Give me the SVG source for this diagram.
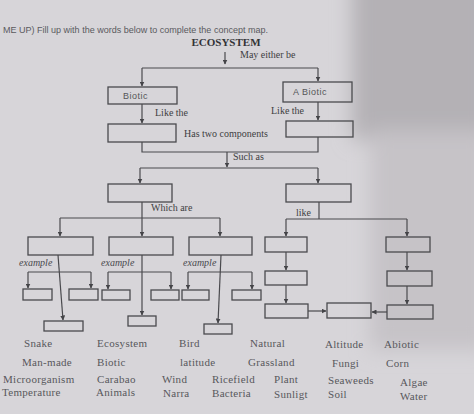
<svg xmlns="http://www.w3.org/2000/svg" width="474" height="414" viewBox="0 0 474 414">
<defs>
<filter id="soft" x="-0.3" y="-0.3" width="1.6" height="1.6"><feGaussianBlur stdDeviation="10"/></filter>
<marker id="ah" viewBox="0 0 10 10" refX="9" refY="5" markerWidth="5" markerHeight="5" orient="auto" markerUnits="userSpaceOnUse">
<path d="M0,0 L10,5 L0,10 Z" fill="#444448"/>
</marker>
<style>
.box{fill:none;stroke:#4a4a4e;stroke-width:1.3}
.ln{fill:none;stroke:#4a4a4e;stroke-width:1.2}
.ar{fill:none;stroke:#4a4a4e;stroke-width:1.2;marker-end:url(#ah)}
.lbl{font-family:"Liberation Serif",serif;font-size:10px;fill:#3e3e42}
.ex{font-family:"Liberation Serif",serif;font-size:10px;font-style:italic;fill:#4a4a4e}
.hw{font-family:"Liberation Sans",sans-serif;font-size:9px;fill:#555558;letter-spacing:0.5px}
.wd{font-family:"Liberation Serif",serif;font-size:11px;fill:#58585c;letter-spacing:0.3px}
</style>
</defs>
<rect x="0" y="0" width="474" height="414" fill="#d7d5d9"/>
<g filter="url(#soft)">
<rect x="352" y="-30" width="140" height="170" fill="#b4b1b5"/>
<rect x="370" y="130" width="120" height="220" fill="#c6c3c7"/>
</g>

<text x="3" y="33" font-family="Liberation Sans, sans-serif" font-size="9" fill="#5a5a5e" textLength="265" lengthAdjust="spacingAndGlyphs">ME UP) Fill up with the words below to complete the concept map.</text>

<g id="ecosystem"><text x="226" y="46" text-anchor="middle" font-family="Liberation Serif, serif" font-size="11" font-weight="bold" fill="#333337">ECOSYSTEM</text></g>

<g id="connectors">
<path class="ar" d="M225,52 V64"/>
<path class="ln" d="M142,68 H318"/>
<path class="ar" d="M142,68 V86"/>
<path class="ar" d="M318,68 V81"/>
<path class="ar" d="M142,104 V123"/>
<path class="ar" d="M318,102 V120"/>
<path class="ln" d="M142,142 V152 H318 V137"/>
<path class="ar" d="M227,152 V167"/>
<path class="ln" d="M140,168 H318"/>
<path class="ar" d="M140,168 V183"/>
<path class="ar" d="M318,168 V183"/>
<path class="ar" d="M142,202 V236"/>
<path class="ln" d="M60,218 H220"/>
<path class="ar" d="M60,218 V236"/>
<path class="ar" d="M220,218 V236"/>
<path class="ln" d="M319,202 V219"/>
<path class="ln" d="M286,219 H407"/>
<path class="ar" d="M286,219 V236"/>
<path class="ar" d="M407,219 V236"/>
<path class="ar" d="M58,255 L63,320"/>
<path class="ln" d="M28,272 H91"/>
<path class="ar" d="M28,272 V288"/>
<path class="ar" d="M91,272 V288"/>
<path class="ar" d="M142,255 V315"/>
<path class="ln" d="M108,272 H171"/>
<path class="ar" d="M108,272 V289"/>
<path class="ar" d="M171,272 V289"/>
<path class="ar" d="M221,255 L218,323"/>
<path class="ln" d="M188,272 H252"/>
<path class="ar" d="M188,272 V289"/>
<path class="ar" d="M252,272 V289"/>
<path class="ar" d="M286,252 V270"/>
<path class="ar" d="M286,285 V303"/>
<path class="ar" d="M407,252 V270"/>
<path class="ar" d="M407,286 V304"/>
<path class="ar" d="M308,311 H326"/>
<path class="ar" d="M387,312 H372"/>
</g>

<g id="connector-labels">
<text class="lbl" x="240" y="58">May either be</text>
<text class="lbl" x="155" y="116">Like the</text>
<text class="lbl" x="271" y="114">Like the</text>
<text class="lbl" x="184" y="137">Has two components</text>
<text class="lbl" x="233" y="160">Such as</text>
<text class="lbl" x="151" y="211">Which are</text>
<text class="lbl" x="296" y="216">like</text>
<text class="ex" x="19" y="266">example</text>
<text class="ex" x="101" y="266">example</text>
<text class="ex" x="183" y="266">example</text>
</g>

<g id="biotic"><rect class="box" x="108" y="87" width="69" height="17"/><text class="hw" x="123" y="99">Biotic</text></g>
<g id="abiotic"><rect class="box" x="283" y="82" width="69" height="20"/><text class="hw" x="293" y="95">A Biotic</text></g>
<g id="biotic-sub"><rect class="box" x="108" y="124" width="68" height="18"/></g>
<g id="abiotic-sub"><rect class="box" x="286" y="121" width="67" height="16"/></g>
<g id="comp-left"><rect class="box" x="108" y="184" width="64" height="18"/></g>
<g id="comp-right"><rect class="box" x="286" y="184" width="65" height="18"/></g>
<g id="cat1"><rect class="box" x="28" y="237" width="65" height="18"/></g>
<g id="cat2"><rect class="box" x="109" y="237" width="64" height="18"/></g>
<g id="cat3"><rect class="box" x="189" y="237" width="63" height="18"/></g>
<g id="fac1"><rect class="box" x="265" y="237" width="42" height="15"/></g>
<g id="fac2"><rect class="box" x="386" y="237" width="44" height="15"/></g>
<g id="ex1a"><rect class="box" x="23" y="289" width="29" height="11"/></g>
<g id="ex1b"><rect class="box" x="69" y="289" width="29" height="11"/></g>
<g id="ex1c"><rect class="box" x="44" y="321" width="39" height="10"/></g>
<g id="ex2a"><rect class="box" x="102" y="290" width="28" height="10"/></g>
<g id="ex2b"><rect class="box" x="151" y="290" width="28" height="10"/></g>
<g id="ex2c"><rect class="box" x="128" y="316" width="28" height="10"/></g>
<g id="ex3a"><rect class="box" x="182" y="290" width="27" height="10"/></g>
<g id="ex3b"><rect class="box" x="232" y="290" width="29" height="10"/></g>
<g id="ex3c"><rect class="box" x="204" y="324" width="28" height="10"/></g>
<g id="fac1b"><rect class="box" x="265" y="271" width="42" height="14"/></g>
<g id="fac1c"><rect class="box" x="265" y="304" width="43" height="14"/></g>
<g id="fac2b"><rect class="box" x="387" y="271" width="45" height="15"/></g>
<g id="fac2c"><rect class="box" x="387" y="305" width="46" height="14"/></g>
<g id="center"><rect class="box" x="327" y="303" width="44" height="15"/></g>

<g id="word-bank">
<text class="wd" x="24" y="347">Snake</text>
<text class="wd" x="97" y="347">Ecosystem</text>
<text class="wd" x="179" y="347">Bird</text>
<text class="wd" x="250" y="347">Natural</text>
<text class="wd" x="325" y="348">Altitude</text>
<text class="wd" x="384" y="348">Abiotic</text>
<text class="wd" x="22" y="366">Man-made</text>
<text class="wd" x="97" y="366">Biotic</text>
<text class="wd" x="180" y="366">latitude</text>
<text class="wd" x="248" y="366">Grassland</text>
<text class="wd" x="332" y="367">Fungi</text>
<text class="wd" x="386" y="367">Corn</text>
<text class="wd" x="3" y="383">Microorganism</text>
<text class="wd" x="97" y="383">Carabao</text>
<text class="wd" x="162" y="383">Wind</text>
<text class="wd" x="212" y="383">Ricefield</text>
<text class="wd" x="274" y="383">Plant</text>
<text class="wd" x="328" y="384">Seaweeds</text>
<text class="wd" x="400" y="386">Algae</text>
<text class="wd" x="2" y="396">Temperature</text>
<text class="wd" x="96" y="396">Animals</text>
<text class="wd" x="163" y="397">Narra</text>
<text class="wd" x="212" y="397">Bacteria</text>
<text class="wd" x="274" y="398">Sunligt</text>
<text class="wd" x="328" y="398">Soil</text>
<text class="wd" x="400" y="400">Water</text>
</g>
</svg>
